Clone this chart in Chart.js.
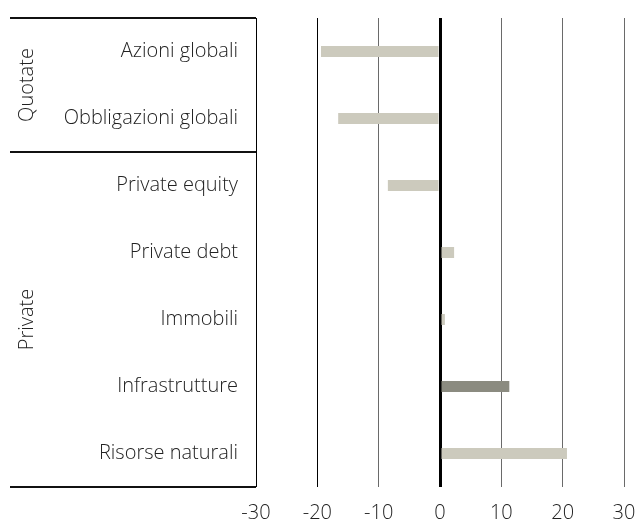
<!DOCTYPE html>
<html>
<head>
<meta charset="utf-8">
<script src="https://cdn.jsdelivr.net/npm/chart.js@4/dist/chart.umd.min.js"></script>
<style>
  html, body { margin: 0; padding: 0; background: #fff; }
  #wrap { width: 637px; height: 520px; position: relative; }
</style>
</head>
<body>
<div id="wrap"><canvas id="chart"></canvas></div>
<script>
// categories and values
const categories = ["Azioni globali", "Obbligazioni globali", "Private equity", "Private debt", "Immobili", "Infrastrutture", "Risorse naturali"];
const values = [-19.4, -16.6, -8.5, 2.3, 0.8, 11.3, 20.7];
const highlighted = ["Infrastrutture"];

// groups on the left: label, first and last category index
const groupLabels = ["Quotate", "Private"];
const groupFirst = [0, 2];
const groupLast = [1, 6];

const xTicks = [-30, -20, -10, 0, 10, 20, 30];

const FONT = "'Open Sans', 'Noto Sans', sans-serif";
const lightBar = "#cccabd";
const darkBar = "#8b8b80";

const groupPlugin = {
  id: "groups",
  afterDraw(chart) {
    const ctx = chart.ctx;
    const y = chart.scales.y;
    const left = 10;
    const right = chart.chartArea.left;
    const half = (y.getPixelForValue(1) - y.getPixelForValue(0)) / 2;
    ctx.save();
    ctx.strokeStyle = "#111";
    ctx.lineWidth = 2;
    // separator lines: top, between groups, bottom
    const lines = [y.getPixelForValue(0) - half];
    groupLast.forEach(i => lines.push(y.getPixelForValue(i) + half));
    lines.forEach(py => {
      ctx.beginPath();
      ctx.moveTo(left, Math.round(py));
      ctx.lineTo(right, Math.round(py));
      ctx.stroke();
    });
    // rotated group labels
    ctx.fillStyle = "#222";
    ctx.font = "300 20px " + FONT;
    ctx.textAlign = "center";
    ctx.textBaseline = "middle";
    groupLabels.forEach((lab, g) => {
      const top = y.getPixelForValue(groupFirst[g]) - half;
      const bot = y.getPixelForValue(groupLast[g]) + half;
      ctx.save();
      ctx.translate(27, (top + bot) / 2);
      ctx.rotate(-Math.PI / 2);
      ctx.fillText(lab, 0, 0);
      ctx.restore();
    });
    ctx.restore();
  }
};

new Chart(document.getElementById("chart"), {
  type: "bar",
  data: {
    labels: categories,
    datasets: [{
      data: values,
      backgroundColor: categories.map(c => highlighted.includes(c) ? darkBar : lightBar),
      barPercentage: 0.165,
      categoryPercentage: 1,
      borderWidth: 0
    }]
  },
  options: {
    indexAxis: "y",
    responsive: true,
    maintainAspectRatio: false,
    animation: false,
    layout: { padding: { top: 18, right: 13, left: 0, bottom: 0 } },
    plugins: {
      legend: { display: false },
      tooltip: { enabled: false }
    },
    scales: {
      x: {
        min: -30,
        max: 30,
        afterBuildTicks: (scale) => { scale.ticks = xTicks.map(v => ({ value: v })); },
        afterFit: (scale) => {
          scale.height = 33;
          scale.paddingLeft = 0;
          scale.paddingRight = 0;
        },
        border: { display: false },
        grid: {
          drawTicks: false,
          color: (c) => (c.tick && (c.tick.value === 0 || c.tick.value <= -20)) ? "#000" : "#6a6a6a",
          lineWidth: (c) => (c.tick && c.tick.value === 0) ? 3 : 1
        },
        ticks: {
          padding: 14,
          color: "#222",
          font: { family: FONT, size: 20, weight: 300 }
        }
      },
      y: {
        afterFit: (scale) => {
          scale.width = 256;
          scale.paddingTop = 0;
          scale.paddingBottom = 0;
        },
        border: { display: false },
        grid: { display: false, drawTicks: false },
        ticks: {
          padding: 18,
          color: "#222",
          font: { family: FONT, size: 20, weight: 300 }
        }
      }
    }
  },
  plugins: [groupPlugin]
});
</script>
</body>
</html>
